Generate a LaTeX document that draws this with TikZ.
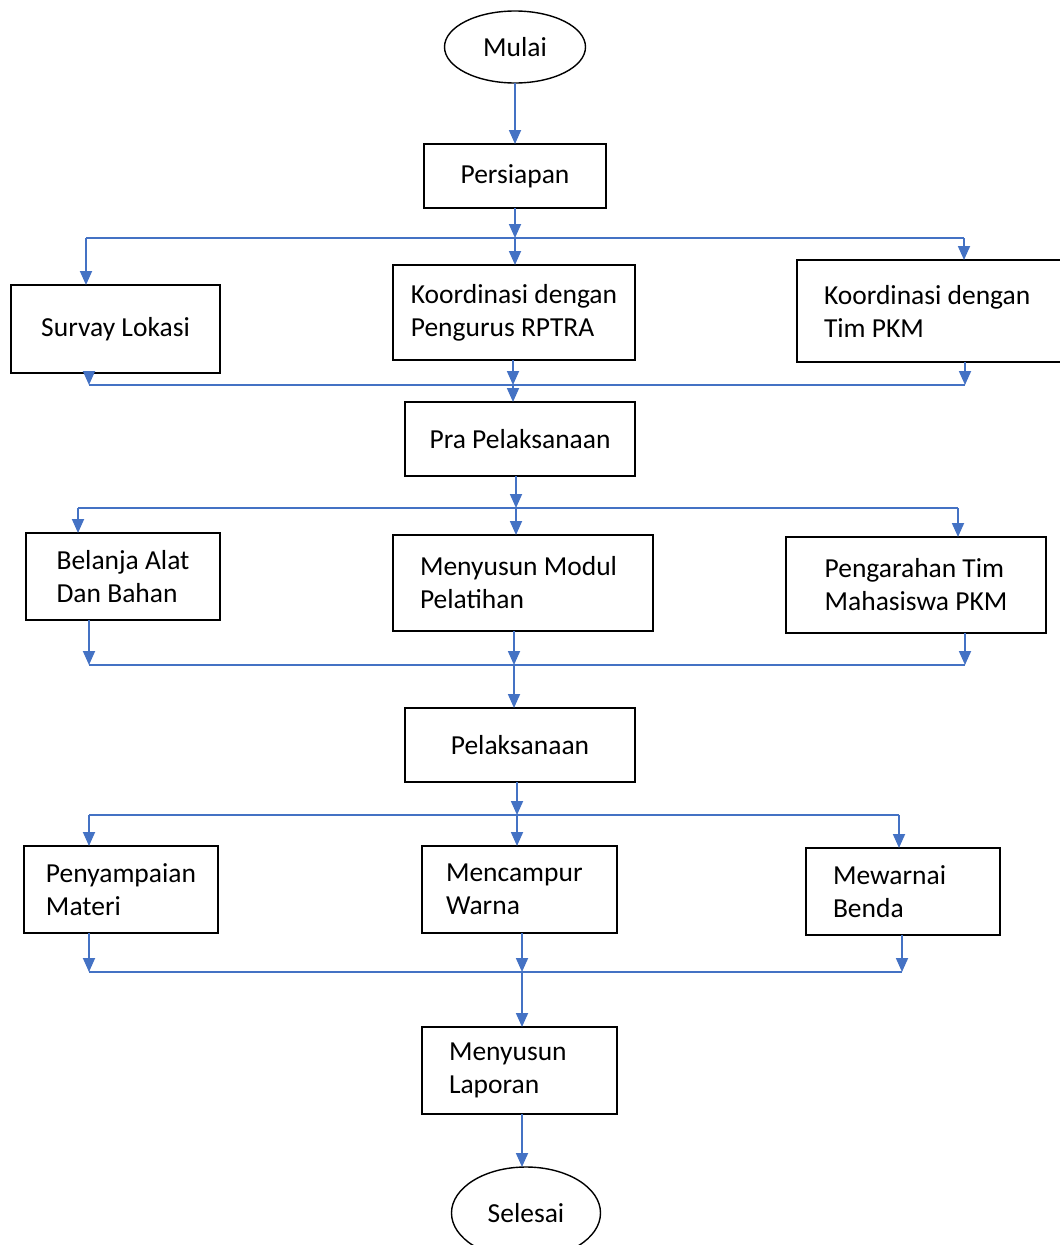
\documentclass[tikz,border=0pt]{standalone}
\usepackage{fontspec}
\setmainfont{Carlito}
\usetikzlibrary{arrows.meta,shapes.geometric}
\definecolor{garisbiru}{HTML}{4472C4}
\tikzset{langkah/.style={draw=black, line width=1.6pt, rectangle, anchor=north west,
    align=flush left, inner ysep=0pt, outer sep=0pt, font=\fontsize{27.5}{33}\selectfont},
  bulat/.style={draw=black, line width=1.4pt, ellipse, inner sep=0pt, outer sep=0pt,
    font=\fontsize{27.5}{33}\selectfont},
  jalur/.style={draw=garisbiru, line width=1.8pt},
  alur/.style={jalur, -{Triangle[length=14pt,width=12pt]}}}

\begin{document}
\begin{tikzpicture}[x=1pt,y=-1pt]
\useasboundingbox (0,0) rectangle (1060,1245);
\clip (0,0) rectangle (1060,1245);

% titik-titik pada jalur cabang
\coordinate (a1) at (86,238);  \coordinate (c1) at (515,238);  \coordinate (d1) at (964,238);
\coordinate (a2) at (89,385);  \coordinate (c2) at (513,385);  \coordinate (d2) at (965,385);
\coordinate (a3) at (78,508);  \coordinate (c3) at (516,508);  \coordinate (d3) at (958,508);
\coordinate (a4) at (89,665);  \coordinate (c4) at (514,665);  \coordinate (d4) at (965,665);
\coordinate (a5) at (89,815);  \coordinate (c5) at (517,815);  \coordinate (d5) at (899,815);
\coordinate (a6) at (89,972);  \coordinate (c6) at (522,972);  \coordinate (d6) at (902,972);

\node[bulat, minimum width=141, minimum height=72] (mulai) at (515,47) {Mulai};
\node[langkah, minimum width=182, minimum height=64] (persiapan) at (424,144) {Persiapan};

\node[langkah, minimum width=209, minimum height=88] (survay) at (11,285) {Survay Lokasi};
\node[langkah, minimum width=242, minimum height=95] (koorA) at (393,265)
  {Koordinasi dengan\\Pengurus RPTRA};
\node[langkah, text width=226, inner xsep=27, minimum height=102] (koorB) at (797,260)
  {Koordinasi dengan\\Tim PKM};

\node[langkah, minimum width=230, minimum height=74] (pra) at (405,402) {Pra Pelaksanaan};

\node[langkah, minimum width=194, minimum height=87] (belanja) at (26,533) {Belanja Alat\\Dan Bahan};
\node[langkah, text width=206, inner xsep=27, minimum height=96] (modul) at (393,535)
  {Menyusun Modul\\Pelatihan};
\node[langkah, minimum width=260, minimum height=96] (arahan) at (786,537)
  {Pengarahan Tim\\Mahasiswa PKM};

\node[langkah, minimum width=230, minimum height=74] (laksana) at (405,708) {Pelaksanaan};

\node[langkah, minimum width=194, minimum height=87] (materi) at (24,846) {Penyampaian\\Materi};
\node[langkah, text width=147, inner xsep=24, minimum height=87] (campur) at (422,846) {Mencampur\\Warna};
\node[langkah, text width=140, inner xsep=27, minimum height=87] (warnai) at (806,848) {Mewarnai\\Benda};

\node[langkah, text width=141, inner xsep=27, minimum height=87] (laporan) at (422,1027) {Menyusun\\Laporan};
\node[bulat, minimum width=149, minimum height=92] (selesai) at (526,1213) {Selesai};

% persiapan
\draw[alur] (c1 |- mulai.south) -- (c1 |- persiapan.north);
\draw[alur] (c1 |- persiapan.south) -- (c1);
\draw[jalur] (a1) -- (d1);
\draw[alur] (a1) -- (a1 |- survay.north);
\draw[alur] (c1) -- (c1 |- koorA.north);
\draw[alur] (d1) -- (d1 |- koorB.north);
\draw[alur] (a2 |- survay.south) -- (a2);
\draw[alur] (c2 |- koorA.south) -- (c2);
\draw[alur] (d2 |- koorB.south) -- (d2);
\draw[jalur] (a2) -- (d2);
\draw[alur] (c2) -- (c2 |- pra.north);

% pra pelaksanaan
\draw[alur] (c3 |- pra.south) -- (c3);
\draw[jalur] (a3) -- (d3);
\draw[alur] (a3) -- (a3 |- belanja.north);
\draw[alur] (c3) -- (c3 |- modul.north);
\draw[alur] (d3) -- (d3 |- arahan.north);
\draw[alur] (a4 |- belanja.south) -- (a4);
\draw[alur] (c4 |- modul.south) -- (c4);
\draw[alur] (d4 |- arahan.south) -- (d4);
\draw[jalur] (a4) -- (d4);
\draw[alur] (c4) -- (c4 |- laksana.north);

% pelaksanaan
\draw[alur] (c5 |- laksana.south) -- (c5);
\draw[jalur] (a5) -- (d5);
\draw[alur] (a5) -- (a5 |- materi.north);
\draw[alur] (c5) -- (c5 |- campur.north);
\draw[alur] (d5) -- (d5 |- warnai.north);
\draw[alur] (a6 |- materi.south) -- (a6);
\draw[alur] (c6 |- campur.south) -- (c6);
\draw[alur] (d6 |- warnai.south) -- (d6);
\draw[jalur] (a6) -- (d6);
\draw[alur] (c6) -- (c6 |- laporan.north);
\draw[alur] (c6 |- laporan.south) -- (c6 |- selesai.north);
\end{tikzpicture}
\end{document}
